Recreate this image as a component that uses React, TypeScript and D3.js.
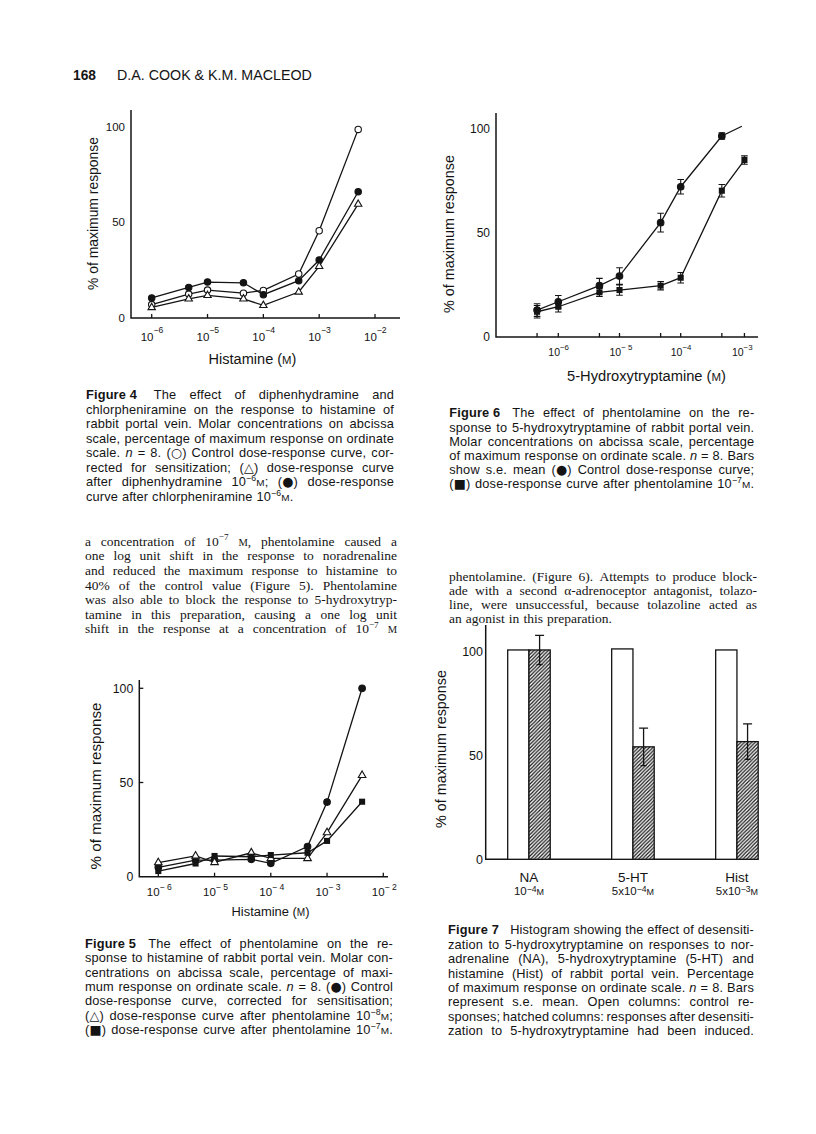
import React, { useEffect, useRef } from "react";
import * as d3 from "d3";

// ---------------- DATA ----------------
// Figure 4 – histamine, % of maximum response
const fig4Conc = [1e-6, 4.6e-6, 1e-5, 4.4e-5, 1e-4, 4.3e-4, 1e-3, 5e-3];
const fig4Control = [7, 12.5, 14.6, 13, 14.4, 23, 45.6, 98.6]; // open circles
const fig4Chlorphen = [10.5, 16, 18.8, 18.4, 12.2, 19.5, 30.3, 66]; // filled circles
const fig4Diphen = [5.5, 10, 11.8, 10, 6.6, 13.6, 27, 59.5]; // triangles
const fig4Decades = [1e-6, 1e-5, 1e-4, 1e-3, 1e-2];
const fig4DecadeLabels = ["10^{−6}", "10^{−5}", "10^{−4}", "10^{−3}", "10^{−2}"];

// Figure 5 – histamine after phentolamine
const fig5Conc = [1e-6, 4.6e-6, 1e-5, 4.5e-5, 1e-4, 4.5e-4, 1e-3, 4.2e-3];
const fig5Control = [5, 8.8, 8.8, 9.2, 7.1, 16, 39.6, 100]; // filled circles
const fig5Phent8 = [7.5, 11, 7.6, 12.7, 9.7, 9.7, 23.4, 53.8]; // triangles
const fig5Phent7 = [3, 7, 11, 10.6, 11.5, 12.7, 19, 39.8]; // squares
const fig5Decades = [1e-6, 1e-5, 1e-4, 1e-3, 1e-2];
const fig5DecadeLabels = ["10^{− 6}", "10^{− 5}", "10^{− 4}", "10^{− 3}", "10^{− 2}"];

// Figure 6 – 5-HT
const fig6ControlConc = [4.5e-7, 1e-6, 4.7e-6, 1e-5, 4.7e-5, 1e-4, 4.7e-4];
const fig6Control = [12.9, 16.9, 24.6, 29.2, 54.8, 72, 96.3];
const fig6ControlSE = [3, 3, 3.5, 4, 4.5, 3.5, 1.5];
const fig6ControlEnd: [number, number] = [1e-3, 101];
const fig6PhentConc = [4.5e-7, 1e-6, 4.7e-6, 1e-5, 4.7e-5, 1e-4, 4.7e-4, 1.1e-3];
const fig6Phent = [12.1, 14.5, 21.4, 22.5, 24.6, 28.4, 70.1, 84.8];
const fig6PhentSE = [3, 2.5, 2, 2.5, 2, 2.5, 3, 2];
const fig6Decades = [1e-6, 1e-5, 1e-4, 1e-3];
const fig6DecadeLabels = ["10^{−6}", "10^{− 5}", "10^{−4}", "10^{−3}"];

// Figure 7 – histogram
const fig7Cats = ["NA", "5-HT", "Hist"];
const fig7Doses = ["10^{−4}[M]", "5x10^{−4}[M]", "5x10^{−3}[M]"];
const fig7Control = [100.5, 101, 100.5];
const fig7Desens = [100.5, 54, 56.5];
const fig7DesensSE = [7, 9, 8.5];

const yTickValues = [0, 50, 100];

// ---------------- TEXT ----------------
const headerNumber = "168";
const headerAuthors = "D.A. COOK & K.M. MACLEOD";

const fig4Caption = [
  "**Figure\u00A04\u00A0** The effect of diphenhydramine and",
  "chlorpheniramine on the response to histamine of",
  "rabbit portal vein. Molar concentrations on abcissa",
  "scale, percentage of maximum response on ordinate",
  "scale. _n_ = 8. ({○}) Control dose-response curve, cor-",
  "rected for sensitization; ({△}) dose-response curve",
  "after diphenhydramine 10^{−6}[M]; ({●}) dose-response",
  "curve after chlorpheniramine 10^{−6}[M].",
];
const bodyLeft = [
  "a concentration of 10^{−7} [M], phentolamine caused a",
  "one log unit shift in the response to noradrenaline",
  "and reduced the maximum response to histamine to",
  "40% of the control value (Figure 5). Phentolamine",
  "was also able to block the response to 5-hydroxytryp-",
  "tamine in this preparation, causing a one log unit",
  "shift in the response at a concentration of 10^{−7} [M]",
];
const fig6Caption = [
  "**Figure\u00A06\u00A0** The effect of phentolamine on the re-",
  "sponse to 5-hydroxytryptamine of rabbit portal vein.",
  "Molar concentrations on abcissa scale, percentage",
  "of maximum response on ordinate scale. _n_ = 8. Bars",
  "show s.e. mean ({●}) Control dose-response curve;",
  "({■}) dose-response curve after phentolamine 10^{−7}[M].",
];
const bodyRight = [
  "phentolamine. (Figure 6). Attempts to produce block-",
  "ade with a second α-adrenoceptor antagonist, tolazo-",
  "line, were unsuccessful, because tolazoline acted as",
  "an agonist in this preparation.",
];
const fig5Caption = [
  "**Figure\u00A05\u00A0** The effect of phentolamine on the re-",
  "sponse to histamine of rabbit portal vein. Molar con-",
  "centrations on abcissa scale, percentage of maxi-",
  "mum response on ordinate scale. _n_ = 8. ({●}) Control",
  "dose-response curve, corrected for sensitisation;",
  "({△}) dose-response curve after phentolamine 10^{−8}[M];",
  "({■}) dose-response curve after phentolamine 10^{−7}[M].",
];
const fig7Caption = [
  "**Figure\u00A07\u00A0\u00A0** Histogram showing the effect of desensiti-",
  "zation to 5-hydroxytryptamine on responses to nor-",
  "adrenaline (NA), 5-hydroxytryptamine (5-HT) and",
  "histamine (Hist) of rabbit portal vein. Percentage",
  "of maximum response on ordinate scale. _n_ = 8. Bars",
  "represent s.e. mean. Open columns: control re-",
  "sponses; hatched columns: responses after desensiti-",
  "zation to 5-hydroxytryptamine had been induced.",
];
const yTitle = "% of maximum response";

// ---------------- STYLE ----------------
const SANS = "'Liberation Sans', Arial, Helvetica, sans-serif";
const SERIF = "'Liberation Serif', 'Times New Roman', serif";
const SYM = "'DejaVu Sans', sans-serif";
const INK = "#141414";

type Seg = { t: string; k: "n" | "sup" | "sc" | "i" | "b" | "sym" };
function parseRich(s: string): Seg[] {
  const out: Seg[] = [];
  const re = /\^\{([^}]*)\}|\[M\]|_([^_]+)_|\*\*([^*]+)\*\*|\{([^}]*)\}/g;
  let last = 0;
  let m: RegExpExecArray | null;
  while ((m = re.exec(s))) {
    if (m.index > last) out.push({ t: s.slice(last, m.index), k: "n" });
    if (m[1] !== undefined) out.push({ t: m[1], k: "sup" });
    else if (m[0] === "[M]") out.push({ t: "M", k: "sc" });
    else if (m[2] !== undefined) out.push({ t: m[2], k: "i" });
    else if (m[3] !== undefined) out.push({ t: m[3], k: "b" });
    else if (m[4] !== undefined) out.push({ t: m[4], k: "sym" });
    last = re.lastIndex;
  }
  if (last < s.length) out.push({ t: s.slice(last), k: "n" });
  return out;
}

function renderRich(sel: any, s: string, size: number, supRaise = 0.4, supScale = 0.7) {
  let shift = 0;
  parseRich(s).forEach((seg) => {
    const ts = sel.append("tspan").text(seg.t);
    let target = 0;
    if (seg.k === "sup") {
      ts.attr("font-size", size * supScale);
      target = -size * supRaise;
    } else if (seg.k === "sc") ts.attr("font-size", size * 0.78);
    else if (seg.k === "i") ts.attr("font-style", "italic");
    else if (seg.k === "b") ts.attr("font-weight", "bold");
    else if (seg.k === "sym") ts.attr("font-family", SYM).attr("font-size", size * 1.0);
    if (target !== shift) {
      ts.attr("dy", target - shift);
      shift = target;
    }
  });
}

// text whose font size is adjusted so that its natural length equals `len`
function fittedText(g: any, s: string, size: number, len: number) {
  const t = g.append("text").attr("font-family", SANS).attr("fill", INK);
  t.attr("font-size", size);
  renderRich(t, s, size);
  const w = (t.node() as SVGTextElement).getComputedTextLength();
  const k = w > 0 ? len / w : 1;
  t.selectAll("tspan").remove();
  t.attr("font-size", size * k);
  renderRich(t, s, size * k);
  return t;
}

function paragraph(
  g: any,
  lines: string[],
  x: number,
  y0: number,
  lh: number,
  width: number,
  size: number,
  family: string,
  justifyLast: boolean,
  letterSpacing = 0
) {
  lines.forEach((line, i) => {
    const words = line.split(" ").filter((w) => w.length);
    const y = y0 + i * lh;
    const nodes = words.map((w) => {
      const t = g
        .append("text")
        .attr("y", y)
        .attr("font-size", size)
        .attr("font-family", family)
        .attr("letter-spacing", letterSpacing)
        .attr("fill", INK);
      renderRich(t, w, size, 0.4, 0.68);
      return t;
    });
    const measure = () => nodes.map((n: any) => (n.node() as SVGTextElement).getComputedTextLength());
    let widths = measure();
    let total = d3.sum(widths);
    const justify = (i < lines.length - 1 || justifyLast) && words.length > 1;
    const minGap = size * 0.2;
    if (justify && (width - total) / (words.length - 1) < minGap) {
      const chars = d3.sum(words, (w) => parseRich(w).reduce((a, s) => a + s.t.length, 0));
      const need = total + minGap * (words.length - 1) - width;
      const ls = letterSpacing - need / chars;
      nodes.forEach((n: any) => n.attr("letter-spacing", ls));
      widths = measure();
      total = d3.sum(widths);
    }
    const gap = justify ? (width - total) / (words.length - 1) : size * 0.3;
    let cx = x;
    nodes.forEach((n: any, j: number) => {
      n.attr("x", cx);
      cx += widths[j] + gap;
    });
  });
}

type Marker = "openCircle" | "filledCircle" | "openTri" | "filledSquare";
interface Series {
  conc: number[];
  vals: number[];
  se?: number[];
  marker: Marker;
  end?: [number, number];
}

interface LineFigOpts {
  xDomain: [number, number];
  xRange: [number, number];
  yRange: [number, number];
  axisX0: number;
  axisX1: number;
  axisTop: number;
  xTicks: number[];
  decades: number[];
  decadeLabels: string[];
  labelDx: number;
  labelBase: number;
  tickFont: number;
  supRaise: number;
  yLabelRight: number;
  yFont: number;
  yTicksInward: number;
  series: Series[];
  xTitle: string;
  xTitleX: number;
  xTitleBase: number;
  xTitleSize: number;
  xTitleLen: number;
  yTitleX: number;
  yTitleY: number;
  yTitleSize: number;
  yTitleLen: number;
  r: number;
}

function drawMarker(g: any, m: Marker, cx: number, cy: number, r: number) {
  if (m === "openCircle" || m === "filledCircle") {
    g.append("circle")
      .attr("cx", cx)
      .attr("cy", cy)
      .attr("r", r)
      .attr("fill", m === "openCircle" ? "#fff" : INK)
      .attr("stroke", INK)
      .attr("stroke-width", 1.1);
  } else if (m === "openTri") {
    g.append("path")
      .attr("d", d3.symbol(d3.symbolTriangle, r * r * 2.3)())
      .attr("transform", `translate(${cx},${cy})`)
      .attr("fill", "#fff")
      .attr("stroke", INK)
      .attr("stroke-width", 1.1);
  } else {
    g.append("path")
      .attr("d", d3.symbol(d3.symbolSquare, r * r * 3.4)())
      .attr("transform", `translate(${cx},${cy})`)
      .attr("fill", INK);
  }
}

function drawLineFig(svg: any, o: LineFigOpts) {
  const g = svg.append("g");
  const x = d3.scaleLog().domain(o.xDomain).range(o.xRange);
  const y = d3.scaleLinear().domain([0, 100]).range(o.yRange);
  const y0 = y(0);
  g.append("path")
    .attr("d", `M${o.axisX0},${o.axisTop}V${y0}H${o.axisX1}`)
    .attr("fill", "none")
    .attr("stroke", INK)
    .attr("stroke-width", 1.5);
  o.xTicks.forEach((t) => {
    g.append("line")
      .attr("x1", x(t))
      .attr("x2", x(t))
      .attr("y1", y0)
      .attr("y2", y0 - 4)
      .attr("stroke", INK)
      .attr("stroke-width", 1.3);
  });
  o.decades.forEach((d, i) => {
    const t = g
      .append("text")
      .attr("x", x(d) + o.labelDx)
      .attr("y", o.labelBase)
      .attr("font-family", SANS)
      .attr("font-size", o.tickFont)
      .attr("fill", INK);
    renderRich(t, o.decadeLabels[i], o.tickFont, o.supRaise, 0.75);
  });
  yTickValues.forEach((v) => {
    g.append("text")
      .attr("x", o.yLabelRight)
      .attr("y", y(v))
      .attr("dy", "0.36em")
      .attr("text-anchor", "end")
      .attr("font-family", SANS)
      .attr("font-size", o.yFont)
      .attr("fill", INK)
      .text(String(v));
    if (o.yTicksInward > 0 && v > 0) {
      g.append("line")
        .attr("x1", o.axisX0)
        .attr("x2", o.axisX0 + o.yTicksInward)
        .attr("y1", y(v))
        .attr("y2", y(v))
        .attr("stroke", INK)
        .attr("stroke-width", 1.3);
    }
  });
  fittedText(g, o.xTitle, o.xTitleSize, o.xTitleLen)
    .attr("x", o.xTitleX)
    .attr("y", o.xTitleBase)
    .attr("text-anchor", "middle");
  fittedText(g, yTitle, o.yTitleSize, o.yTitleLen)
    .attr("transform", `translate(${o.yTitleX},${o.yTitleY}) rotate(-90)`)
    .attr("text-anchor", "middle")
    .attr("dy", "0.35em");
  const line = d3
    .line<[number, number]>()
    .x((d) => x(d[0]))
    .y((d) => y(d[1]));
  o.series.forEach((s) => {
    const pts: [number, number][] = s.conc.map((c, i) => [c, s.vals[i]]);
    if (s.end) pts.push(s.end);
    g.append("path")
      .attr("d", line(pts))
      .attr("fill", "none")
      .attr("stroke", INK)
      .attr("stroke-width", 1.3);
  });
  o.series.forEach((s) => {
    if (!s.se) return;
    s.conc.forEach((c, i) => {
      const cx = x(c);
      const lo = y(s.vals[i] - s.se![i]);
      const hi = y(s.vals[i] + s.se![i]);
      g.append("path")
        .attr("d", `M${cx},${lo}V${hi}M${cx - 3.3},${hi}H${cx + 3.3}M${cx - 3.3},${lo}H${cx + 3.3}`)
        .attr("stroke", INK)
        .attr("stroke-width", 1.1)
        .attr("fill", "none");
    });
  });
  o.series.forEach((s) => {
    s.conc.forEach((c, i) => drawMarker(g, s.marker, x(c), y(s.vals[i]), o.r));
  });
}

function drawFig7(svg: any) {
  const g = svg.append("g");
  const y = d3.scaleLinear().domain([0, 100]).range([859.3, 651]);
  const xb = d3.scaleBand().domain(fig7Cats).range([455.7, 810.2]).paddingInner(0.591).paddingOuter(0.5);
  const inner = d3.scaleBand().domain(["control", "desens"]).range([0, xb.bandwidth()]);
  const y0 = y(0);
  g.append("path")
    .attr("d", `M485.7,625V${y0}H758`)
    .attr("fill", "none")
    .attr("stroke", INK)
    .attr("stroke-width", 1.5);
  yTickValues.forEach((v) => {
    g.append("text")
      .attr("x", 483)
      .attr("y", y(v))
      .attr("dy", "0.36em")
      .attr("text-anchor", "end")
      .attr("font-family", SANS)
      .attr("font-size", 12.5)
      .attr("fill", INK)
      .text(String(v));
  });
  fittedText(g, yTitle, 14, 158)
    .attr("transform", `translate(441,749) rotate(-90)`)
    .attr("text-anchor", "middle")
    .attr("dy", "0.35em");
  fig7Cats.forEach((c, i) => {
    const bx = xb(c)!;
    const w = inner.bandwidth();
    g.append("rect")
      .attr("x", bx + inner("control")!)
      .attr("y", y(fig7Control[i]))
      .attr("width", w)
      .attr("height", y0 - y(fig7Control[i]))
      .attr("fill", "#fff")
      .attr("stroke", INK)
      .attr("stroke-width", 1.3);
    g.append("rect")
      .attr("x", bx + inner("desens")!)
      .attr("y", y(fig7Desens[i]))
      .attr("width", w)
      .attr("height", y0 - y(fig7Desens[i]))
      .attr("fill", "url(#hatch)")
      .attr("stroke", INK)
      .attr("stroke-width", 1.3);
    const cx = bx + inner("desens")! + w / 2;
    const hi = y(fig7Desens[i] + fig7DesensSE[i]);
    const lo = y(fig7Desens[i] - fig7DesensSE[i]);
    g.append("path")
      .attr("d", `M${cx},${lo}V${hi}M${cx - 4.5},${hi}H${cx + 4.5}M${cx - 3},${lo}H${cx + 3}`)
      .attr("stroke", INK)
      .attr("stroke-width", 1.3)
      .attr("fill", "none");
    const center = bx + xb.bandwidth() / 2;
    g.append("text")
      .attr("x", center)
      .attr("y", 881.5)
      .attr("text-anchor", "middle")
      .attr("font-family", SANS)
      .attr("font-size", 13.5)
      .attr("fill", INK)
      .text(c);
    const t = g
      .append("text")
      .attr("x", center)
      .attr("y", 895)
      .attr("text-anchor", "middle")
      .attr("font-family", SANS)
      .attr("font-size", 11.5)
      .attr("fill", INK);
    renderRich(t, fig7Doses[i], 11.5, 0.3, 0.75);
  });
}

export default function App() {
  const ref = useRef<SVGSVGElement>(null);
  useEffect(() => {
    const svg = d3.select(ref.current);
    svg.selectAll("*").remove();
    svg.append("rect").attr("width", 816).attr("height", 1134).attr("fill", "#fff");
    const defs = svg.append("defs");
    const pat = defs
      .append("pattern")
      .attr("id", "hatch")
      .attr("patternUnits", "userSpaceOnUse")
      .attr("width", 3.6)
      .attr("height", 3.6);
    pat.append("rect").attr("width", 3.6).attr("height", 3.6).attr("fill", "#fff");
    pat
      .append("path")
      .attr("d", "M-0.9,0.9L0.9,-0.9M0,3.6L3.6,0M2.7,4.5L4.5,2.7")
      .attr("stroke", INK)
      .attr("stroke-width", 1.2);

    fittedText(svg, `**${headerNumber}**`, 12.5, 23).attr("x", 73).attr("y", 79.5);
    fittedText(svg, headerAuthors, 12.5, 195).attr("x", 117).attr("y", 79.5);

    drawLineFig(svg, {
      xDomain: [1e-6, 1e-2],
      xRange: [151.7, 375],
      yRange: [318, 126.7],
      axisX0: 131,
      axisX1: 400,
      axisTop: 110,
      xTicks: fig4Decades,
      decades: fig4Decades,
      decadeLabels: fig4DecadeLabels,
      labelDx: -11,
      labelBase: 340.5,
      tickFont: 11.5,
      supRaise: 0.65,
      yLabelRight: 125,
      yFont: 11.5,
      yTicksInward: 0,
      series: [
        { conc: fig4Conc, vals: fig4Control, marker: "openCircle" },
        { conc: fig4Conc, vals: fig4Chlorphen, marker: "filledCircle" },
        { conc: fig4Conc, vals: fig4Diphen, marker: "openTri" },
      ],
      xTitle: "Histamine ([M])",
      xTitleX: 252.5,
      xTitleBase: 364,
      xTitleSize: 15,
      xTitleLen: 88,
      yTitleX: 93,
      yTitleY: 213.5,
      yTitleSize: 13.5,
      yTitleLen: 153,
      r: 3.2,
    });

    drawLineFig(svg, {
      xDomain: [1e-6, 1e-4],
      xRange: [558.3, 680.7],
      yRange: [337, 128.3],
      axisX0: 496,
      axisX1: 758,
      axisTop: 113,
      xTicks: fig6PhentConc,
      decades: fig6Decades,
      decadeLabels: fig6DecadeLabels,
      labelDx: -10,
      labelBase: 356,
      tickFont: 10.5,
      supRaise: 0.6,
      yLabelRight: 490,
      yFont: 12,
      yTicksInward: 0,
      series: [
        { conc: fig6ControlConc, vals: fig6Control, se: fig6ControlSE, marker: "filledCircle", end: fig6ControlEnd },
        { conc: fig6PhentConc, vals: fig6Phent, se: fig6PhentSE, marker: "filledSquare" },
      ],
      xTitle: "5-Hydroxytryptamine ([M])",
      xTitleX: 646.5,
      xTitleBase: 381,
      xTitleSize: 15,
      xTitleLen: 159,
      yTitleX: 449,
      yTitleY: 234,
      yTitleSize: 13.5,
      yTitleLen: 158,
      r: 3.3,
    });

    drawLineFig(svg, {
      xDomain: [1e-6, 1e-2],
      xRange: [158.3, 383.3],
      yRange: [876.7, 688.3],
      axisX0: 139.3,
      axisX1: 388,
      axisTop: 680,
      xTicks: fig5Decades,
      decades: fig5Decades,
      decadeLabels: fig5DecadeLabels,
      labelDx: -11.5,
      labelBase: 896,
      tickFont: 11.5,
      supRaise: 0.55,
      yLabelRight: 133.3,
      yFont: 12.3,
      yTicksInward: 4,
      series: [
        { conc: fig5Conc, vals: fig5Control, marker: "filledCircle" },
        { conc: fig5Conc, vals: fig5Phent8, marker: "openTri" },
        { conc: fig5Conc, vals: fig5Phent7, marker: "filledSquare" },
      ],
      xTitle: "Histamine ([M])",
      xTitleX: 270.5,
      xTitleBase: 916,
      xTitleSize: 13.5,
      xTitleLen: 78,
      yTitleX: 96,
      yTitleY: 786,
      yTitleSize: 14.5,
      yTitleLen: 167,
      r: 3.3,
    });

    drawFig7(svg);

    const tg = svg.append("g");
    paragraph(tg, fig4Caption, 86, 399.3, 14.53, 308, 12.8, SANS, false, 0.15);
    paragraph(tg, bodyLeft, 85, 545.7, 14.6, 312, 13.5, SERIF, true);
    paragraph(tg, fig6Caption, 449.3, 417.3, 14.2, 305, 12.8, SANS, true, 0.15);
    paragraph(tg, bodyRight, 449, 581, 14.1, 308, 13.5, SERIF, false);
    paragraph(tg, fig5Caption, 85, 948, 14.33, 308, 12.8, SANS, true, 0.15);
    paragraph(tg, fig7Caption, 448, 934.3, 14.4, 306, 12.8, SANS, true, 0.15);
  }, []);
  return (
    <svg
      ref={ref}
      width={816}
      height={1134}
      style={{ position: "absolute", left: 0, top: 0, display: "block" }}
    />
  );
}
